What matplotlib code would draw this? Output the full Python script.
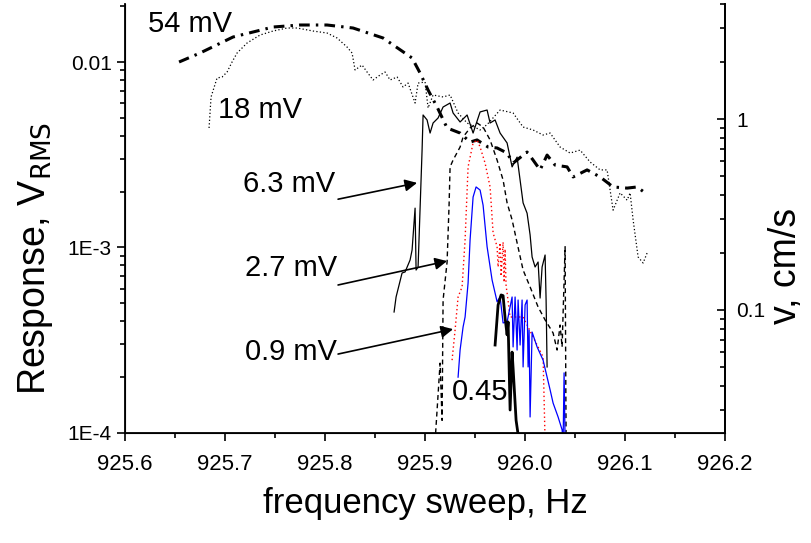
import numpy as np
import matplotlib
matplotlib.use("Agg")
import matplotlib.pyplot as plt
from matplotlib.ticker import FixedLocator, LogLocator, MultipleLocator, NullFormatter

plt.rcParams['font.family'] = ['Liberation Sans', 'DejaVu Sans']

# --- data (frequency in Hz, response in V RMS) ---
f_54 = [925.654, 925.675, 925.708, 925.748, 925.775, 925.802, 925.828, 925.858,
        925.887, 925.895, 925.903, 925.912, 925.922, 925.935, 925.945, 925.952,
        925.963, 925.972, 925.982, 925.988, 926.002, 926.008, 926.015, 926.022,
        926.030, 926.042, 926.048, 926.062, 926.075, 926.088, 926.102, 926.112, 926.120]
v_54 = [0.0100, 0.01118, 0.01364, 0.01544, 0.01583, 0.01583, 0.01525, 0.01347,
        0.01051, 0.00872, 0.00706, 0.00572, 0.00441, 0.00414, 0.00370, 0.00380,
        0.00348, 0.00344, 0.00323, 0.00285, 0.00327, 0.00296, 0.00262, 0.00315,
        0.00278, 0.00272, 0.00240, 0.00262, 0.00240, 0.00212, 0.00209, 0.00212, 0.00197]

f_18 = [925.684, 925.686, 925.692, 925.697, 925.702, 925.707, 925.712, 925.722,
        925.735, 925.748, 925.762, 925.772, 925.788, 925.802, 925.812, 925.822,
        925.827, 925.830, 925.837, 925.842, 925.848, 925.855, 925.860, 925.865,
        925.872, 925.878, 925.883, 925.890, 925.893, 925.900, 925.903, 925.908,
        925.918, 925.925, 925.933, 925.942, 925.955, 925.962, 925.975, 925.988,
        925.998, 926.008, 926.018, 926.025, 926.035, 926.045, 926.055, 926.065,
        926.075, 926.082, 926.085, 926.088, 926.095, 926.102, 926.105, 926.108,
        926.113, 926.118, 926.122]
v_18 = [0.00441, 0.00648, 0.00820, 0.00830, 0.00883, 0.0100, 0.01118, 0.01266,
        0.01398, 0.01469, 0.01525, 0.01525, 0.01469, 0.01433, 0.01347, 0.01204,
        0.01118, 0.00906, 0.00963, 0.00883, 0.00800, 0.00851, 0.00883, 0.00800,
        0.00830, 0.00733, 0.00770, 0.00601, 0.00770, 0.00780, 0.00565, 0.00664,
        0.00648, 0.00664, 0.00531, 0.00469, 0.00430, 0.00460, 0.00551, 0.00531,
        0.00446, 0.00430, 0.00404, 0.00414, 0.00348, 0.00323, 0.00335, 0.00289,
        0.00262, 0.00262, 0.00204, 0.00159, 0.00197, 0.00180, 0.00197, 0.00141,
        0.000889, 0.000825, 0.000934]

f_63 = [925.869, 925.871, 925.877, 925.880, 925.885, 925.887, 925.890, 925.891,
        925.893, 925.897, 925.898, 925.902, 925.905, 925.908, 925.913, 925.918,
        925.925, 925.928, 925.935, 925.942, 925.948, 925.955, 925.962, 925.965,
        925.970, 925.975, 925.982, 925.987, 925.992, 925.995, 925.998, 926.002,
        926.005, 926.007, 926.010, 926.013, 926.015, 926.017, 926.020, 926.021, 926.022]
v_63 = [0.000449, 0.000541, 0.000729, 0.000738, 0.000856, 0.000969, 0.00163, 0.000756,
        0.000785, 0.00335, 0.00518, 0.00487, 0.00414, 0.00469, 0.00499, 0.00572,
        0.00601, 0.00531, 0.00475, 0.00518, 0.00414, 0.00538, 0.00551, 0.00469,
        0.00487, 0.00414, 0.00366, 0.00272, 0.00307, 0.00231, 0.00174, 0.00153,
        0.00117, 0.000889, 0.000785, 0.000835, 0.000534, 0.000785, 0.000911, 0.000521, 0.000227]

f_27 = [925.910, 925.915, 925.917, 925.918, 925.922, 925.924, 925.925, 925.928,
        925.935, 925.938, 925.945, 925.952, 925.958, 925.965, 925.972, 925.978,
        925.982, 925.987, 925.992, 925.998, 926.005, 926.013, 926.020, 926.025,
        926.028, 926.032, 926.035, 926.037, 926.040, 926.041]
v_27 = [0.00009, 0.000238, 0.000117, 0.000521, 0.000835, 0.00170, 0.00272, 0.00296,
        0.00348, 0.00394, 0.00441, 0.00469, 0.00446, 0.00380, 0.00296, 0.00231,
        0.00174, 0.00141, 0.00106, 0.000756, 0.000613, 0.000478, 0.000407, 0.000368,
        0.000346, 0.000280, 0.000382, 0.000291, 0.00101, 0.00009]

f_red = [925.927, 925.930, 925.933, 925.937, 925.940, 925.943, 925.948, 925.952,
         925.955, 925.960, 925.965, 925.968, 925.972, 925.973, 925.975, 925.976,
         925.978, 925.979, 925.980, 925.981, 925.982, 925.985, 925.998, 926.008,
         926.018, 926.020]
v_red = [0.000247, 0.000359, 0.000541, 0.000613, 0.00110, 0.00272, 0.00366, 0.00380,
         0.00348, 0.00285, 0.00212, 0.00120, 0.00101, 0.000785, 0.00106, 0.000700,
         0.00107, 0.000650, 0.000980, 0.000620, 0.000569, 0.000422, 0.000422, 0.000329,
         0.000257, 0.00009]

f_09 = [925.933, 925.935, 925.938, 925.940, 925.943, 925.945, 925.948, 925.951,
        925.955, 925.958, 925.962, 925.967, 925.972, 925.975, 925.978, 925.982,
        925.987, 925.988, 925.990, 925.992, 925.993, 925.995, 925.997, 925.998,
        926.000, 926.002, 926.003, 926.004, 926.005, 926.007, 926.012, 926.018,
        926.022, 926.025, 926.028, 926.033, 926.037, 926.038, 926.039, 926.040]
v_09 = [0.000200, 0.000280, 0.000373, 0.000422, 0.000644, 0.00110, 0.00187, 0.00212,
        0.00204, 0.00169, 0.00101, 0.000668, 0.000510, 0.000541, 0.000392, 0.000397,
        0.000541, 0.000291, 0.000541, 0.000280, 0.000521, 0.000298, 0.000521, 0.000227,
        0.000490, 0.000521, 0.000227, 0.000359, 0.000122, 0.000350, 0.000291, 0.000247,
        0.000200, 0.000171, 0.000145, 0.000122, 0.000104, 0.00009, 0.000211, 0.00009]

f_045 = [925.970, 925.973, 925.976, 925.978, 925.980, 925.982, 925.983, 925.985,
         925.987, 925.988, 925.991, 925.994]
v_045 = [0.000298, 0.000490, 0.000555, 0.000550, 0.000417, 0.000338, 0.000397, 0.000133,
         0.000273, 0.000224, 0.000117, 0.00009]

left_ticks = [1e-4, 1e-3, 1e-2]
left_labels = ['1E-4', '1E-3', '0.01']
right_ticks = [0.1, 1]
right_labels = ['0.1', '1']

fig = plt.figure(figsize=(8.12, 5.43), dpi=100)
ax = fig.add_axes([0.154, 0.2026, 0.739, 0.790])

ax.plot(f_54, v_54, color='black', lw=2.2, ls=(0, (3.5, 2, 0.8, 2)))
ax.plot(f_18, v_18, color='black', lw=0.9, ls=(0, (1, 1.8)))
ax.plot(f_63, v_63, color='black', lw=0.9)
ax.plot(f_27, v_27, color='black', lw=1.0, ls=(0, (3.5, 2.5)))
ax.plot(f_red, v_red, color='red', lw=1.0, ls=(0, (1, 2)))
ax.plot(f_09, v_09, color='blue', lw=0.9)
ax.plot(f_045, v_045, color='black', lw=2.0)

ax.set_yscale('log')
ax.set_xlim(925.6, 926.2)
ax.set_ylim(1e-4, 0.02054)
ax.xaxis.set_major_locator(MultipleLocator(0.1))
ax.xaxis.set_minor_locator(MultipleLocator(0.05))
ax.xaxis.set_major_formatter(plt.FuncFormatter(lambda v, p: f'{v:.1f}'))
ax.yaxis.set_major_locator(FixedLocator(left_ticks))
ax.set_yticklabels(left_labels)
ax.yaxis.set_minor_locator(LogLocator(base=10, subs=np.arange(2, 10)))
ax.yaxis.set_minor_formatter(NullFormatter())
ax.tick_params(axis='both', which='major', direction='out', length=6, width=1.2)
ax.tick_params(axis='both', which='minor', direction='out', length=3.5, width=1.2)
ax.tick_params(axis='x', which='major', labelsize=16, pad=9)
ax.tick_params(axis='y', which='major', labelsize=15)
ax.spines['top'].set_visible(False)
for s in ['left', 'bottom', 'right']:
    ax.spines[s].set_linewidth(1.3)

ax.set_xlabel('frequency sweep, Hz', fontsize=25, labelpad=9)

ax2 = ax.twinx()
ax2.set_yscale('log')
ax2.set_ylim(0.0227, 4.0)
ax2.yaxis.set_major_locator(FixedLocator(right_ticks))
ax2.set_yticklabels(right_labels)
ax2.yaxis.set_minor_locator(LogLocator(base=10, subs=np.arange(2, 10)))
ax2.yaxis.set_minor_formatter(NullFormatter())
ax2.tick_params(axis='y', which='major', direction='in', length=6, width=1.2, labelsize=15, pad=8)
ax2.tick_params(axis='y', which='minor', direction='in', length=3.5, width=1.2)
ax2.spines['top'].set_visible(False)
ax2.spines['right'].set_linewidth(1.3)

# axis titles placed where the reference has them (slightly below centre)
fig.text(36 / 812, 1 - 258 / 543, 'Response, V$_{\\mathrm{RMS}}$', fontsize=27,
         rotation=90, ha='center', va='center')
fig.text(786 / 812, 1 - 266 / 543, 'v, cm/s', fontsize=27,
         rotation=90, ha='center', va='center')

# curve labels
tf = dict(fontsize=21, transform=ax.transAxes, va='center', ha='left')
ax.text(0.038, 0.953, '54 mV', **tf)
ax.text(0.155, 0.753, '18 mV', **tf)
ax.text(0.197, 0.580, '6.3 mV', **tf)
ax.text(0.200, 0.385, '2.7 mV', **tf)
ax.text(0.200, 0.189, '0.9 mV', **tf)
ax.text(0.545, 0.0956, '0.45', **tf)

arrow = dict(arrowstyle='-|>', color='black', lw=1.2, mutation_scale=18, shrinkA=0, shrinkB=0)
ax.annotate('', xy=(925.892, 0.00223), xytext=(0.355, 0.545), textcoords='axes fraction', arrowprops=arrow)
ax.annotate('', xy=(925.922, 0.000845), xytext=(0.355, 0.345), textcoords='axes fraction', arrowprops=arrow)
ax.annotate('', xy=(925.928, 0.000363), xytext=(0.355, 0.184), textcoords='axes fraction', arrowprops=arrow)

fig.savefig('out.png', dpi=100)
